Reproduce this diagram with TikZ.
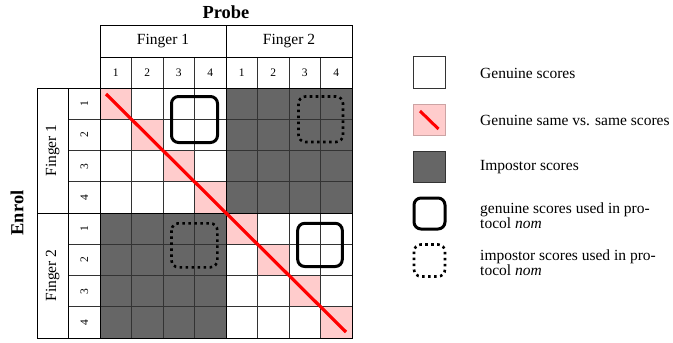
\documentclass[tikz,border=0pt]{standalone}
\usepackage{fontspec}
\setmainfont{Liberation Serif}
\definecolor{pinkc}{RGB}{255,204,204}
\definecolor{darkc}{RGB}{102,102,102}
\begin{document}
\begin{tikzpicture}[x=1pt,y=-1pt,
  gridline/.style={draw=black!80,line width=0.6pt},
  outline/.style={draw=black,line width=0.8pt},
  pinkcell/.style={fill=pinkc},
  darkcell/.style={fill=darkc},
  diagline/.style={draw=red,line width=3.2pt},
  solidbox/.style={draw=black,line width=3pt,rounded corners=7pt},
  dotbox/.style={draw=black,line width=2.6pt,rounded corners=7pt,dash pattern=on 2.6pt off 3.4pt},
  lbl/.style={font=\fontsize{15.5}{15.5}\selectfont,inner sep=0pt},
  dig/.style={font=\fontsize{11.5}{11.5}\selectfont,inner sep=0pt},
  legtext/.style={font=\fontsize{15.5}{15}\selectfont,inner sep=0pt,anchor=west,align=left},
  legbox/.style={draw=black!80,line width=0.8pt}]
\useasboundingbox (0,0) rectangle (673,343);
\def\cw{31.5}
\def\ch{31.25}
% fills
\foreach \i in {0,...,7}
  \fill[pinkcell] ({100+\i*\cw},{88+\i*\ch}) rectangle ++(\cw,\ch);
\fill[darkcell] (226,88) rectangle (352,213);
\fill[darkcell] (100,213) rectangle (226,338);
% grid lines
\foreach \i in {1,...,7} {
  \draw[gridline] ({100+\i*\cw},57) -- ({100+\i*\cw},338);
  \draw[gridline] (68.7,{88+\i*\ch}) -- (352,{88+\i*\ch});
}
\draw[outline] (100,25) rectangle (352,338);
\draw[outline] (100,57) -- (352,57);
\draw[outline] (37,88) -- (352,88);
\draw[outline] (226,25) -- (226,338);
\draw[outline] (37,213) -- (352,213);
\draw[outline] (37,88) rectangle (100,338);
\draw[outline] (68.7,88) -- (68.7,338);
% header texts
\node[lbl,font=\fontsize{18.4}{18.4}\selectfont\bfseries] (probe) at (226,12) {Probe};
\node[lbl] (pf1) at (163,41) {Finger 1};
\node[lbl] (pf2) at (289,41) {Finger 2};
\foreach \i/\d in {0/1,1/2,2/3,3/4,4/1,5/2,6/3,7/4}
  \node[dig] (pd\i) at ({100+(\i+0.5)*\cw},72.5) {\d};
\node[lbl,font=\fontsize{18.4}{18.4}\selectfont\bfseries,rotate=90] (enrol) at (17,213) {Enrol};
\node[lbl,rotate=90] (ef1) at (52.7,150.5) {Finger 1};
\node[lbl,rotate=90] (ef2) at (52.7,275.5) {Finger 2};
\foreach \i/\d in {0/1,1/2,2/3,3/4,4/1,5/2,6/3,7/4}
  \node[dig,rotate=90] (ed\i) at (84.3,{88+(\i+0.5)*\ch}) {\d};
% diagonal
\coordinate (dstart) at (106,94);
\coordinate (dend) at (346,332);
\draw[diagline] (dstart) -- (dend);
% protocol boxes
\draw[solidbox] (171.5,96.5) rectangle (217.5,142.5);
\draw[dotbox] (298.5,96.5) rectangle (343,142);
\draw[dotbox] (171.5,223.3) rectangle (217.3,267.3);
\draw[solidbox] (297.7,223.3) rectangle (342.3,266.5);
% legend
\draw[legbox,fill=white] (413.3,56.7) rectangle (445.3,88.3);
\node[legtext] (l1) at (480,73) {Genuine scores};
\draw[legbox,draw=pinkc!80!black,fill=pinkc] (413.3,104.3) rectangle (445.3,135.7);
\coordinate (ls) at (420,111);
\coordinate (le) at (438.5,129);
\draw[draw=red,line width=3pt] (ls) -- (le);
\node[legtext] (l2) at (480,120.5) {Genuine same vs. same scores};
\draw[legbox,fill=darkc] (413.3,151) rectangle (445.3,182.7);
\node[legtext] (l3) at (480,167.5) {Impostor scores};
\draw[solidbox] (414,198) rectangle (445,229);
\node[legtext] (l4) at (480,216) {genuine scores used in pro-\\tocol \textit{nom}};
\draw[dotbox] (414,244.5) rectangle (445,276.5);
\node[legtext] (l5) at (480,263) {impostor scores used in pro-\\tocol \textit{nom}};
\end{tikzpicture}
\end{document}
